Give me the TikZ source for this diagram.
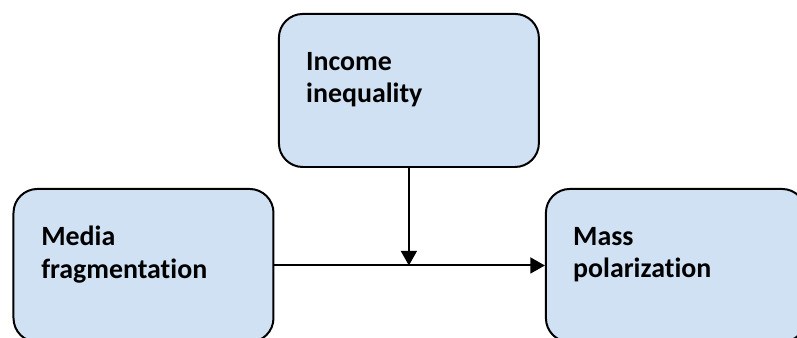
\documentclass[tikz,border=0pt]{standalone}
\usepackage{fontspec}
\setmainfont{Carlito}[Ligatures=NoCommon]
\usetikzlibrary{arrows.meta}
\pgfdeclarelayer{nodelayer}
\pgfdeclarelayer{edgelayer}
\pgfsetlayers{edgelayer,nodelayer,main}
\definecolor{boxblue}{RGB}{207,225,242}
\tikzstyle{box style}=[fill=boxblue, draw=black, shape=rectangle, line width=1.5pt, rounded corners=18pt, minimum width=6.88cm, minimum height=4.05cm, inner sep=0pt]
\tikzstyle{none}=[fill=none, draw=none, shape=circle, scale=0]
\tikzstyle{box text}=[anchor=base west, align=left, inner sep=0pt, font=\fontsize{21}{24.5}\selectfont\bfseries]
\tikzstyle{new edge style 0}=[draw=black, line width=1.5pt, -{Triangle[length=11pt, width=12pt]}]

\begin{document}
\begin{tikzpicture}
	\useasboundingbox (0, 0) rectangle (21.09, -8.94);
	\begin{pgfonlayer}{nodelayer}
		\node [style=box style] (0) at (10.82, -2.394) {};
		\node [style=box style] (1) at (3.797, -7.025) {};
		\node [style=box style] (2) at (17.886, -7.025) {};
		\node [style=none] (3) at (10.82, -7.025) {};
		\node [style=box text] (4) at (8.096, -2.725) {Income\\inequality};
		\node [style=box text] (5) at (1.085, -7.363) {Media\\fragmentation};
		\node [style=box text] (6) at (15.16, -7.35) {Mass\\polarization};
	\end{pgfonlayer}
	\begin{pgfonlayer}{edgelayer}
		\draw [style=new edge style 0] (1) to (2);
		\draw [style=new edge style 0] (0.south) to (3.center);
	\end{pgfonlayer}
\end{tikzpicture}
\end{document}
